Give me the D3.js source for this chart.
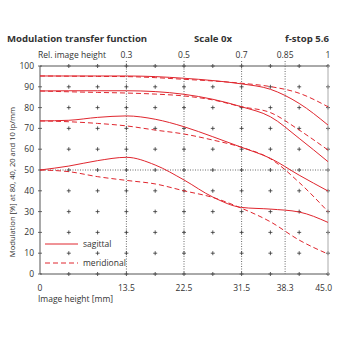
<!DOCTYPE html>
<html><head><meta charset="utf-8">
<script src="https://cdn.jsdelivr.net/npm/d3@7/dist/d3.min.js"></script>
<style>body{margin:0;background:#fff}svg{display:block}text{font-family:"Open Sans",sans-serif;fill:#333}</style>
</head><body><svg id="c" width="340" height="340"></svg>
<script>
const imageHeight = [0,4.5,9,13.5,18,22.5,27,31.5,36,40.5,45];
const sag10 = [95.2,95.2,95.2,95.2,94.9,94.1,93.0,91.4,88.8,82.0,71.6];
const mer10 = [95.2,95.1,95.0,94.9,94.4,93.6,92.8,91.7,90.1,86.9,80.4];
const sag20 = [88.0,88.1,88.1,88.1,87.7,86.4,84.0,80.4,75.6,65.2,54.0];
const mer20 = [88.0,87.6,87.3,87.0,86.5,85.6,83.7,80.4,77.6,69.2,59.6];
const sag40 = [73.6,73.9,75.3,76.0,74.4,70.8,66.0,60.9,55.6,47.5,39.9];
const mer40 = [73.6,73.2,72.4,71.2,69.2,67.3,64.4,60.9,55.4,44.0,30.0];
const sag80 = [50.0,51.9,54.5,56.1,52.4,45.2,37.0,32.0,31.2,29.8,24.8];
const mer80 = [50.0,49.2,46.8,45.0,43.3,40.0,36.8,31.6,25.1,16.3,9.6];
const bottomTicks = [0,13.5,22.5,31.5,38.3,45];
const bottomLabels = ["0","13.5","22.5","31.5","38.3","45.0"];
const topTicks = [13.5,22.5,31.5,38.3,45];
const topLabels = ["0.3","0.5","0.7","0.85","1"];
const yTicks = [0,10,20,30,40,50,60,70,80,90,100];
const gridX = [4.5,9,13.5,18,22.5,27,31.5,36,40.5,45];

const svg = d3.select("#c");
const x = d3.scaleLinear().domain([0,45]).range([40,328]);
const y = d3.scaleLinear().domain([0,100]).range([274,66]);
const red = "#e0262e";

const g = svg.append("g");
gridX.forEach(gx => yTicks.forEach(gy => {
  g.append("path").attr("d",`M${x(gx)-2},${y(gy)}h4M${x(gx)},${y(gy)-2}v4`)
   .attr("stroke","#333").attr("stroke-width",0.8);
}));
[13.5,22.5,31.5,38.3].forEach(v=>{
  svg.append("line").attr("x1",x(v)).attr("x2",x(v)).attr("y1",61).attr("y2",y(0))
   .attr("stroke","#444").attr("stroke-width",0.8).attr("stroke-dasharray","1,1.5");
});
svg.append("line").attr("x1",x(0)).attr("x2",x(45)).attr("y1",y(50)).attr("y2",y(50))
   .attr("stroke","#444").attr("stroke-width",0.8).attr("stroke-dasharray","1,1.5");
svg.append("line").attr("x1",x(0)).attr("x2",x(45)).attr("y1",y(100)).attr("y2",y(100)).attr("stroke","#555").attr("stroke-width",1);
svg.append("line").attr("x1",x(0)).attr("x2",x(45)).attr("y1",y(0)).attr("y2",y(0)).attr("stroke","#555").attr("stroke-width",1);
svg.append("line").attr("x1",x(0)).attr("x2",x(0)).attr("y1",y(0)).attr("y2",y(100)).attr("stroke","#555").attr("stroke-width",1);
svg.append("line").attr("x1",x(45)).attr("x2",x(45)).attr("y1",y(0)).attr("y2",y(100)).attr("stroke","#aaa").attr("stroke-width",1);
yTicks.forEach(v=>svg.append("line").attr("x1",x(0)-2).attr("x2",x(0)+2).attr("y1",y(v)).attr("y2",y(v)).attr("stroke","#444").attr("stroke-width",0.8));

const line = d3.line().x((d,i)=>x(imageHeight[i])).y(d=>y(d)).curve(d3.curveMonotoneX);
[[sag10,false],[mer10,true],[sag20,false],[mer20,true],[sag40,false],[mer40,true],[sag80,false],[mer80,true]].forEach(([s,dash])=>{
  svg.append("path").attr("d",line(s)).attr("fill","none").attr("stroke",red).attr("stroke-width",1)
   .attr("stroke-dasharray",dash?"5,3":null);
});

const fs = 8.5;
yTicks.forEach(v=>svg.append("text").attr("x",34).attr("y",y(v)+3).attr("text-anchor","end").attr("font-size",fs).text(v));
bottomTicks.forEach((v,i)=>svg.append("text").attr("x",i===bottomTicks.length-1?332:x(v)).attr("y",291)
  .attr("text-anchor",i===bottomTicks.length-1?"end":"middle").attr("font-size",fs).text(bottomLabels[i]));
topTicks.forEach((v,i)=>svg.append("text").attr("x",x(v)).attr("y",58).attr("text-anchor","middle").attr("font-size",fs).text(topLabels[i]));
svg.append("text").attr("x",38).attr("y",58).attr("font-size",fs).text("Rel. image height");
svg.append("text").attr("x",38).attr("y",302).attr("font-size",fs).text("Image height [mm]");
svg.append("text").attr("transform","translate(15,182) rotate(-90)").attr("text-anchor","middle").attr("font-size",7.6)
  .text("Modulation [%] at 80, 40, 20 and 10 lp/mm");
const tfs = 9.6;
svg.append("text").attr("x",7).attr("y",42).attr("font-size",tfs).attr("font-weight","bold").attr("fill","#111").text("Modulation transfer function");
svg.append("text").attr("x",213).attr("y",42).attr("text-anchor","middle").attr("font-size",tfs).attr("font-weight","bold").attr("fill","#111").text("Scale 0x");
svg.append("text").attr("x",329).attr("y",42).attr("text-anchor","end").attr("font-size",tfs).attr("font-weight","bold").attr("fill","#111").text("f-stop 5.6");
svg.append("line").attr("x1",45).attr("x2",78).attr("y1",244).attr("y2",244).attr("stroke",red).attr("stroke-width",1);
svg.append("line").attr("x1",45).attr("x2",78).attr("y1",263).attr("y2",263).attr("stroke",red).attr("stroke-width",1).attr("stroke-dasharray","5,3");
svg.append("text").attr("x",83).attr("y",247).attr("font-size",fs).text("sagittal");
svg.append("text").attr("x",83).attr("y",266).attr("font-size",fs).text("meridional");
</script></body></html>
